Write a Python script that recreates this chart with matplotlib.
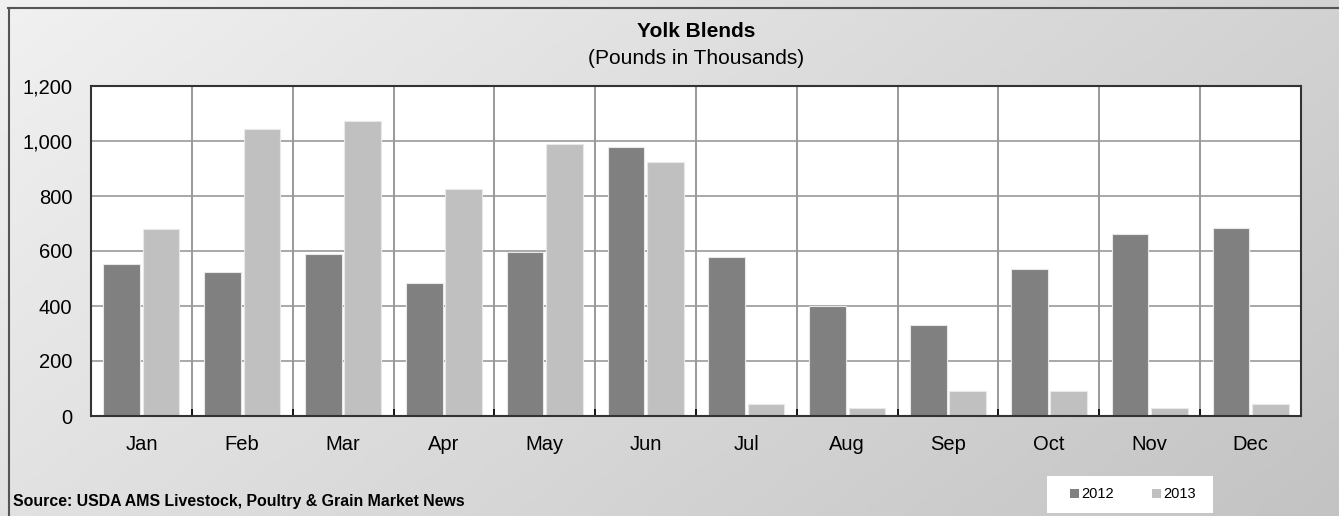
import numpy as np
import matplotlib.pyplot as plt
from matplotlib.patches import Patch, Rectangle
from matplotlib.lines import Line2D

plt.rcParams['font.family'] = ['Liberation Sans', 'DejaVu Sans']

months = ['Jan', 'Feb', 'Mar', 'Apr', 'May', 'Jun', 'Jul', 'Aug', 'Sep', 'Oct', 'Nov', 'Dec']
y2012 = [553, 525, 589, 485, 596, 978, 578, 399, 332, 533, 661, 685]
y2013 = [679, 1044, 1072, 825, 988, 922, 42, 30, 90, 90, 30, 42]
yticks = [0, 200, 400, 600, 800, 1000, 1200]

W, H = 1339, 516
fig = plt.figure(figsize=(W / 100, H / 100), dpi=100)

# gradient background, light top-left to darker bottom-right
bg = fig.add_axes([0, 0, 1, 1], zorder=-10)
gx, gy = np.meshgrid(np.linspace(0, 1, 300), np.linspace(0, 1, 120))
val = 0.945 - 0.12 * gx - 0.06 * gy
img = np.dstack([val, val, val])
bg.imshow(img, aspect='auto', extent=[0, 1, 0, 1], origin='upper')
bg.set_xlim(0, 1)
bg.set_ylim(0, 1)
bg.axis('off')
# outer frame (top and left visible)
fig.add_artist(Line2D([8 / W, 1], [1 - 7.5 / H, 1 - 7.5 / H], color='#555555', lw=1.5))
fig.add_artist(Line2D([8.5 / W, 8.5 / W], [0, 1 - 7.5 / H], color='#555555', lw=1.5))

ax = fig.add_axes([91 / W, 1 - 416 / H, (1301 - 91) / W, (416 - 86) / H])
ax.set_facecolor('white')

x = np.arange(len(months))
bw = 0.365
ax.bar(x - 0.195, y2012, bw, color='#808080', edgecolor='#e8e8e8', linewidth=0.8, zorder=3)
ax.bar(x + 0.195, y2013, bw, color='#c0c0c0', edgecolor='#e8e8e8', linewidth=0.8, zorder=3)

ax.set_xlim(-0.5, len(months) - 0.5)
ax.set_ylim(0, 1200)
ax.set_yticks(yticks)
ax.set_yticklabels([f'{v:,}' for v in yticks])
ax.set_xticks(x)
ax.set_xticklabels(months)
ax.set_xticks(np.arange(-0.5, len(months)), minor=True)
ax.tick_params(axis='x', which='major', length=0, labelsize=14.5, pad=14)
ax.tick_params(axis='x', which='minor', direction='in', length=5, width=1.2, color='black')
ax.tick_params(axis='y', length=0, labelsize=14.5, pad=13.5)
ax.grid(axis='y', color='#999999', lw=1.2, zorder=0)
ax.grid(axis='x', which='minor', color='#888888', lw=1.2, zorder=0)
for s in ax.spines.values():
    s.set_color('#333333')
    s.set_linewidth(1.5)
    s.set_zorder(5)

cx = (91 + 1301) / 2 / W
fig.text(cx, 1 - 37 / H, 'Yolk Blends', ha='center', va='baseline', fontsize=15, fontweight='bold')
fig.text(cx, 1 - 64 / H, '(Pounds in Thousands)', ha='center', va='baseline', fontsize=15)
fig.text(13 / W, 1 - 506 / H, 'Source: USDA AMS Livestock, Poultry & Grain Market News',
         ha='left', va='baseline', fontsize=11.4, fontweight='bold')

# legend box
fig.add_artist(Rectangle((1047 / W, 1 - 513 / H), 166 / W, 37 / H, transform=fig.transFigure,
                         facecolor='white', edgecolor='none', zorder=1))
handles = [Patch(facecolor='#808080', label='2012'), Patch(facecolor='#c0c0c0', label='2013')]
leg = fig.legend(handles=handles, loc='center', bbox_to_anchor=(1133 / W, 1 - 494.5 / H), ncol=2,
                 fontsize=10.5, frameon=False, handlelength=0.6, handleheight=0.6,
                 handletextpad=0.15, columnspacing=2.6, borderpad=0, borderaxespad=0)
leg.set_zorder(2)

fig.savefig('out.png', dpi=100)
